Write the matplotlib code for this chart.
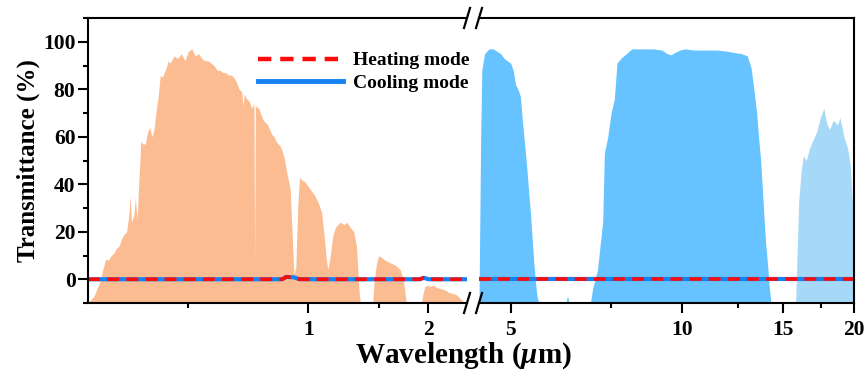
import matplotlib
matplotlib.use("Agg")
import matplotlib.pyplot as plt
from matplotlib.ticker import FixedLocator, NullFormatter, FixedFormatter
from matplotlib.lines import Line2D

plt.rcParams['font.family'] = ['Liberation Serif', 'DejaVu Serif']
plt.rcParams['font.weight'] = 'bold'
plt.rcParams['mathtext.fontset'] = 'custom'
plt.rcParams['mathtext.rm'] = 'Liberation Serif:bold'
plt.rcParams['mathtext.it'] = 'Liberation Serif:italic:bold'

# solar spectrum (normalised, shifted), wavelength in um
solar_wl = [0.280, 0.290, 0.300, 0.305, 0.310, 0.315, 0.320, 0.325, 0.330, 0.335,
            0.340, 0.345, 0.350, 0.355, 0.357, 0.360, 0.365, 0.368, 0.372, 0.376,
            0.380, 0.385, 0.390, 0.395, 0.400, 0.405, 0.410, 0.415, 0.420, 0.425,
            0.430, 0.435, 0.440, 0.445, 0.450, 0.460, 0.470, 0.480, 0.490, 0.500,
            0.510, 0.520, 0.530, 0.540, 0.550, 0.560, 0.570, 0.580, 0.590, 0.600,
            0.610, 0.620, 0.630, 0.640, 0.650, 0.660, 0.670, 0.680, 0.686, 0.690,
            0.700, 0.710, 0.720, 0.730, 0.733, 0.736, 0.750, 0.770, 0.780, 0.790,
            0.800, 0.810, 0.820, 0.830, 0.840, 0.850, 0.860, 0.870, 0.880, 0.890,
            0.900, 0.910, 0.920, 0.930, 0.940, 0.950, 0.960, 0.980, 1.000, 1.020,
            1.040, 1.060, 1.080, 1.100, 1.110, 1.120, 1.135, 1.150, 1.170, 1.200,
            1.230, 1.250, 1.270, 1.300, 1.320, 1.340, 1.350, 1.450, 1.460, 1.480,
            1.500, 1.530, 1.560, 1.600, 1.650, 1.700, 1.730, 1.760, 1.920, 1.940,
            1.960, 1.990, 2.020, 2.060, 2.100, 2.150, 2.200, 2.250, 2.300, 2.350,
            2.400, 2.450, 2.500]
solar_t = [-10, -7, -1, 4, 8.5, 8, 10, 11, 13, 14,
           17, 19, 20, 28, 35, 24, 27, 34, 25, 43,
           58, 57, 57, 62, 64, 60, 63, 71, 77, 86,
           85, 87, 89, 92, 91, 94, 93, 95, 92, 96,
           97, 94, 95, 93, 92, 92, 91, 90, 88, 88,
           87, 87, 86, 86, 85, 83, 80, 79, 73, 78,
           76, 75, 72, 74, 8, 73, 72, 67, 66, 65,
           63, 61, 60, 58, 57, 56, 54, 51, 46, 42,
           38, 20, 2, 5, 30, 43, 42, 41, 39, 37,
           35, 32, 28, 15, 8, 4, 10, 18, 22, 24,
           23, 24, 22, 20, 14, -5, -10, -10, -2, 6,
           10, 9, 8, 7, 6, 4, 0, -10, -10, -6,
           -3, -2.5, -3, -2.5, -3.5, -4, -4.5, -5.5, -6, -6.5,
           -8, -9.5, -10]

# atmospheric window transmittance
atm_wl = [4.40, 4.43, 4.45, 4.50, 4.58, 4.66, 4.73, 4.80, 4.87, 4.93,
          5.00, 5.05, 5.10, 5.15, 5.20, 5.25, 5.30, 5.34, 5.38, 5.42,
          5.46, 5.49, 5.53, 5.56, 5.60, 6.25, 6.29, 6.33, 6.90, 6.96,
          7.03, 7.10, 7.18, 7.25, 7.30, 7.40, 7.50, 7.60, 7.68, 7.80,
          7.98, 8.15, 8.33, 8.60, 8.90, 9.20, 9.40, 9.55, 9.70, 9.90,
          10.1, 10.5, 11.0, 11.5, 12.0, 12.3, 12.7, 13.0, 13.2, 13.35,
          13.5, 13.6, 13.7, 13.8, 13.9, 14.0, 14.1, 14.2, 14.3, 15.8]
atm_t = [-10, 60, 88, 95, 97, 97, 96, 95, 93, 92,
         91, 88, 82, 80, 77, 65, 55, 46, 36, 27,
         15, 7, -2, -7, -10, -10, -7, -10, -10, -4,
         0, 4, 15, 24, 53, 60, 70, 76, 91, 93,
         95, 97, 97, 97, 97, 96.5, 95, 94.5, 95.5, 96.5,
         97, 96.5, 96.5, 96.5, 96, 95.5, 95, 94, 89, 80,
         70, 60, 52, 40, 27, 15, 7, -3, -10, -10]

farir_wl = [15.8, 15.9, 16.0, 16.15, 16.3, 16.5, 16.7, 16.9, 17.2, 17.45,
            17.7, 17.9, 18.1, 18.4, 18.7, 18.9, 19.2, 19.5, 19.7, 19.9, 20.0]
farir_t = [-10, 12, 33, 45, 52, 50, 55, 58, 62, 68,
           72, 66, 63, 67, 65, 68, 60, 55, 48, 30, 22]

# sample transmittance (both modes)
mode_wl_vis = [0.28, 0.86, 0.88, 0.92, 0.95, 1.90, 1.95, 2.00, 2.50]
cooling_vis = [0, 0, 1.0, 0.8, 0, 0, 0.6, 0, 0]
heating_vis = [0, 0, 1.0, 0.8, 0, 0, 0.6, 0, 0]
mode_wl_ir = [4.4, 20]
cooling_ir = [0, 0]
heating_ir = [0, 0]

W, H = 866, 373
fig = plt.figure(figsize=(W / 100, H / 100), dpi=100)
bot, top = 303, 18
ax1 = fig.add_axes([88 / W, 1 - bot / H, (467 - 88) / W, (bot - top) / H])
ax2 = fig.add_axes([479 / W, 1 - bot / H, (854 - 479) / W, (bot - top) / H])

orange = '#FCBC92'
blue_fill = '#66C3FF'
blue_light = '#A6D9F8'
red = '#FF0A0A'
blue_line = '#1482F2'

ax1.fill_between(solar_wl, -10, solar_t, color=orange, lw=0)
ax2.fill_between(atm_wl, -10, atm_t, color=blue_fill, lw=0)
ax2.fill_between(farir_wl, -10, farir_t, color=blue_light, lw=0)

for ax, wl, c, h in [(ax1, mode_wl_vis, cooling_vis, heating_vis),
                     (ax2, mode_wl_ir, cooling_ir, heating_ir)]:
    ax.plot(wl, c, color=blue_line, lw=3, solid_capstyle='butt')
    ax.plot(wl, h, color=red, lw=2.6, ls=(0, (3.3, 2)))

for ax in (ax1, ax2):
    ax.set_xscale('log')
    ax.set_ylim(-10, 110)
    for s in ax.spines.values():
        s.set_linewidth(1.5)
    ax.tick_params(which='both', direction='out', width=1.5, labelsize=15.5)
    ax.tick_params(which='major', length=7)
    ax.tick_params(which='minor', length=3.5)
    ax.xaxis.set_minor_formatter(NullFormatter())

ax1.set_xlim(0.28, 2.5)
ax2.set_xlim(4.4, 20)

ax1.xaxis.set_major_locator(FixedLocator([1, 2]))
ax1.xaxis.set_major_formatter(FixedFormatter(['1', '2']))
ax1.xaxis.set_minor_locator(FixedLocator([0.5, 1.5]))
ax2.xaxis.set_major_locator(FixedLocator([5, 10, 15, 20]))
ax2.xaxis.set_major_formatter(FixedFormatter(['5', '10', '15', '20']))
ax2.xaxis.set_minor_locator(FixedLocator([7.5, 12.5, 17.5]))

ax1.set_yticks([0, 20, 40, 60, 80, 100])
ax1.yaxis.set_minor_locator(FixedLocator([-10, 10, 30, 50, 70, 90, 110]))
ax1.tick_params(axis='y', pad=2)
ax1.tick_params(axis='x', pad=5)
ax2.tick_params(axis='x', pad=5)
ax1.spines['right'].set_visible(False)
ax2.spines['left'].set_visible(False)
ax2.tick_params(axis='y', which='both', left=False, labelleft=False)

ax1.set_ylabel('Transmittance (%)', fontsize=18, fontweight='bold', labelpad=2)
fig.text(463 / W, 1 - 356 / H, r'Wavelength ($\mu$m)', fontsize=21,
         fontweight='bold', ha='center', va='center')

# axis-break marks
for xp in (467, 479):
    for yp in (top, bot):
        fig.add_artist(Line2D([(xp - 3) / W, (xp + 3) / W],
                              [1 - (yp + 10) / H, 1 - (yp - 10) / H],
                              color='black', lw=1.6))

handles = [Line2D([], [], color=red, lw=3.2, ls=(0, (3, 2))),
           Line2D([], [], color=blue_line, lw=3.5)]
fig.legend(handles, ['Heating mode', 'Cooling mode'], loc='upper left',
           bbox_to_anchor=(250 / W, 1 - 44 / H), frameon=False,
           prop={'size': 14, 'weight': 'bold'}, handlelength=4.4,
           handletextpad=0.5, labelspacing=0.25, borderaxespad=0)

fig.savefig('out.png', dpi=100)
